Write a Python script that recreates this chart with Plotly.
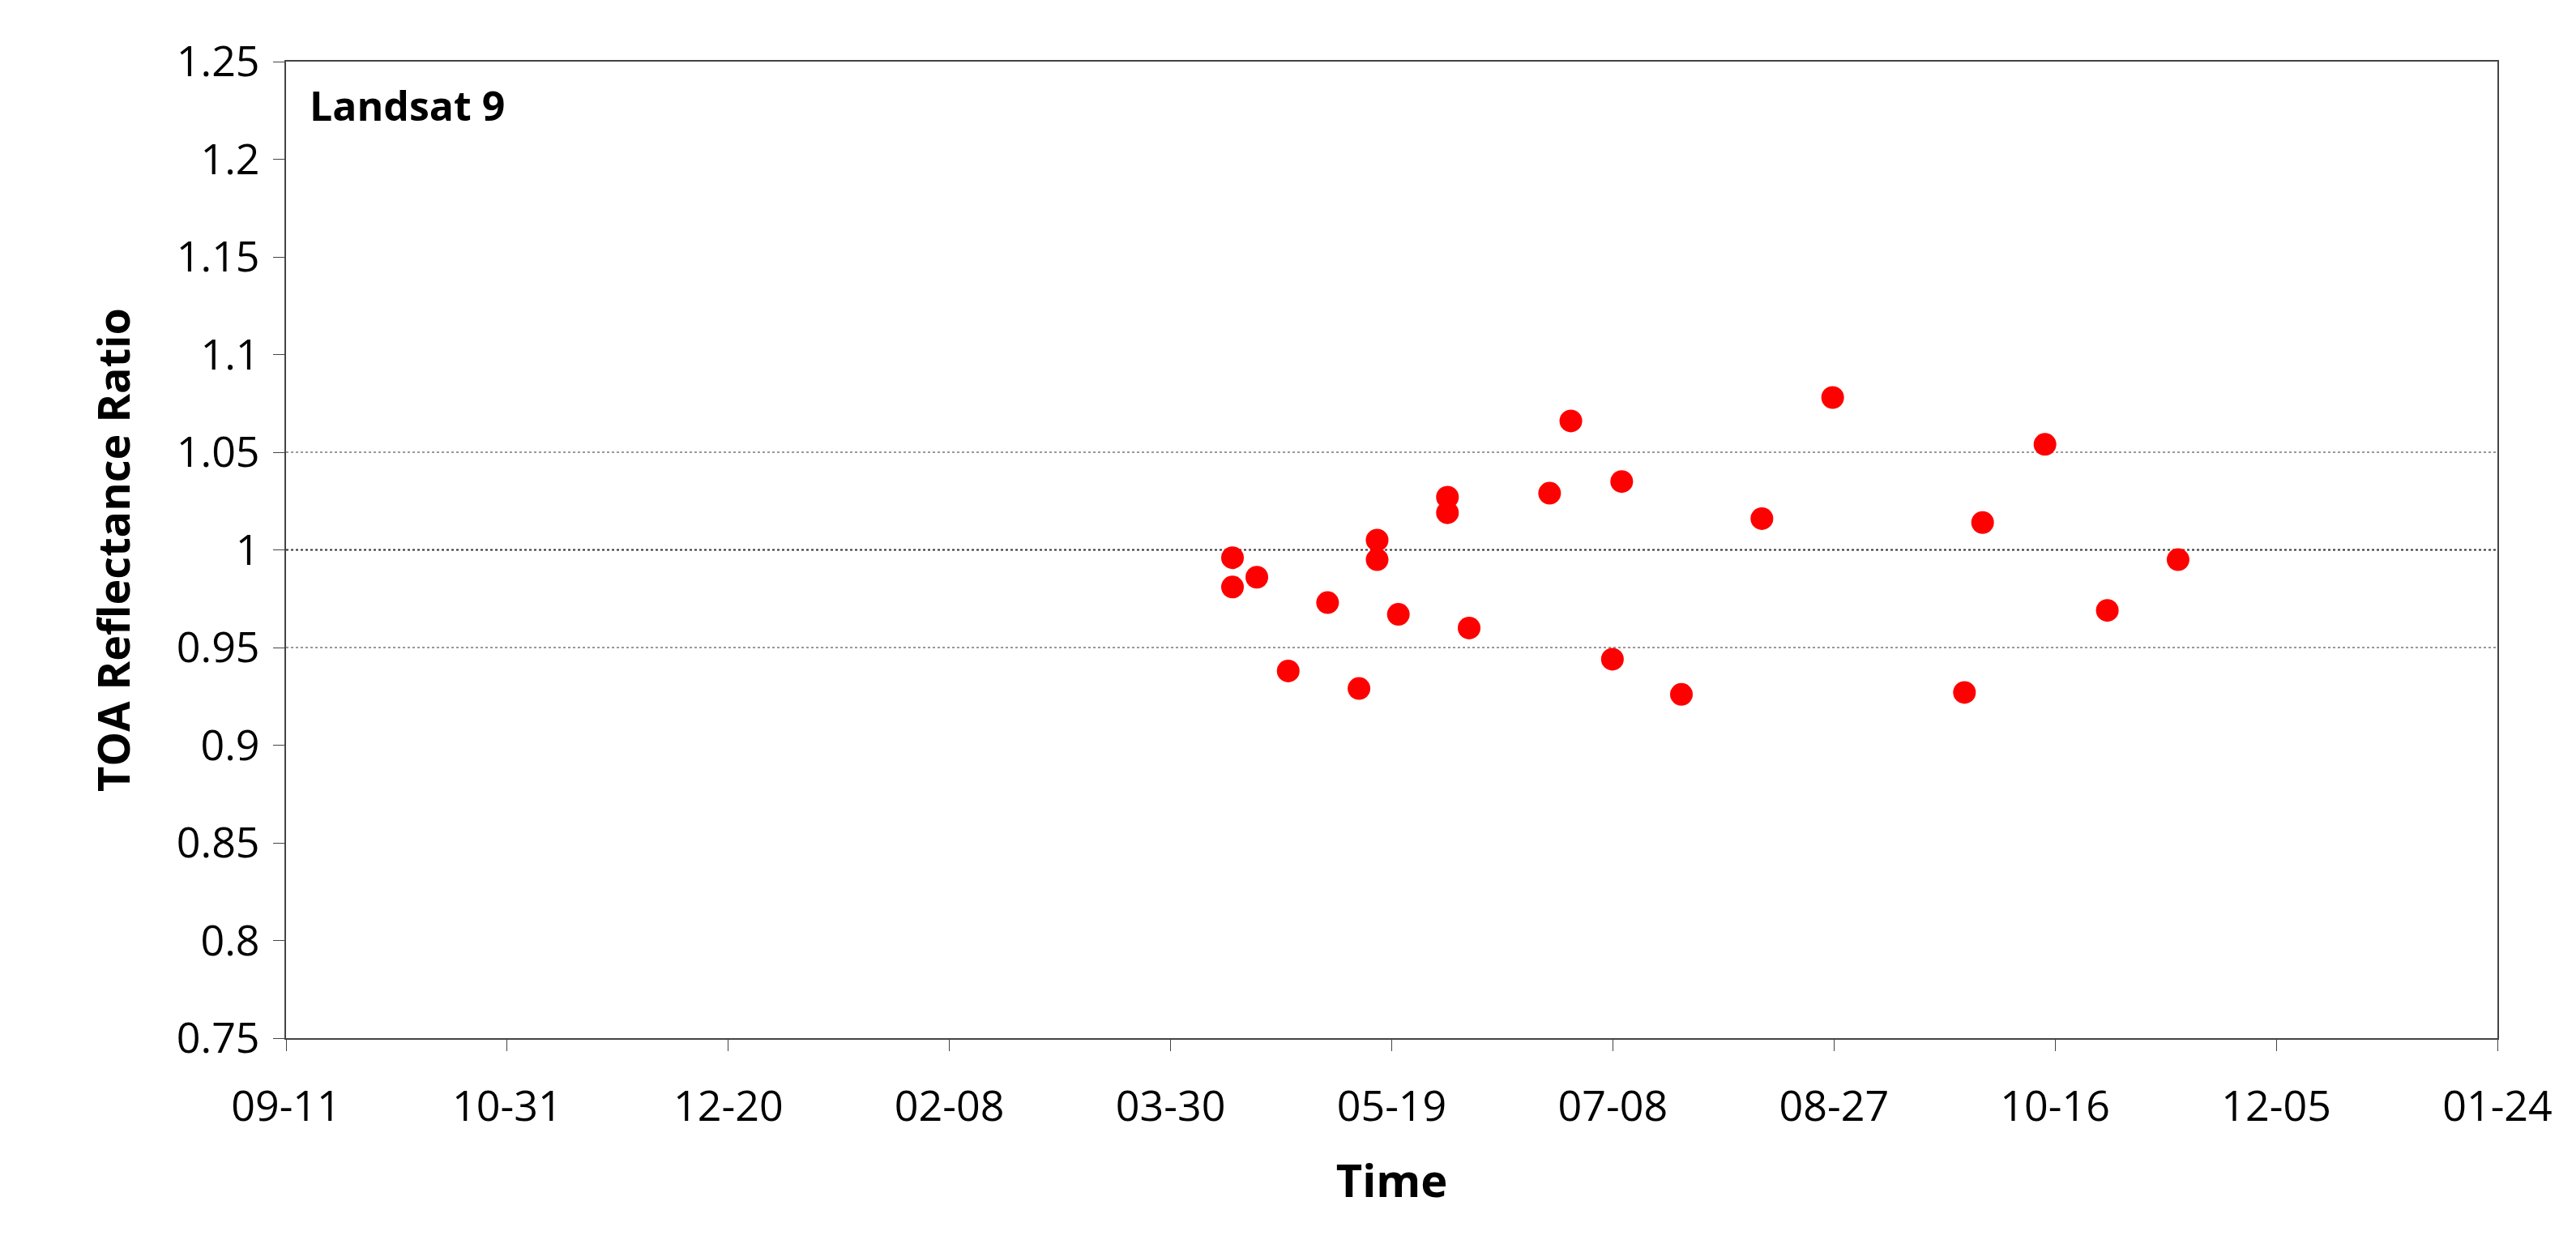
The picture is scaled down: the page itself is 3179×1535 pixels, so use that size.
import plotly.graph_objects as go
import pandas as pd

start = pd.Timestamp("2021-09-11")
day_offsets = [214, 214, 219.5, 226.6, 235.5, 242.6, 246.7, 246.7, 251.5, 262.6, 262.6, 267.5,
               285.7, 290.5, 299.9, 302, 315.5, 333.7, 349.7, 379.5, 383.6, 397.7, 411.8, 427.8]
ratios = [0.996, 0.981, 0.986, 0.938, 0.973, 0.929, 1.005, 0.995, 0.967, 1.027, 1.019, 0.960,
          1.029, 1.066, 0.944, 1.035, 0.926, 1.016, 1.078, 0.927, 1.014, 1.054, 0.969, 0.995]
dates = [start + pd.Timedelta(days=d) for d in day_offsets]

fnt = "Open Sans, Liberation Sans, sans-serif"
fig = go.Figure()
fig.add_trace(go.Scatter(x=dates, y=ratios, mode="markers",
                         marker=dict(color="#ff0000", size=28), showlegend=False))
for yv, col in [(0.95, "#999999"), (1.05, "#999999"), (1.0, "#333333")]:
    fig.add_hline(y=yv, line=dict(color=col, width=2, dash="dot"), layer="below")
fig.add_annotation(text="<b>Landsat 9</b>", xref="paper", yref="paper", x=0.01, y=0.985,
                   xanchor="left", yanchor="top", showarrow=False, font=dict(size=50, color="black", family=fnt))
fig.update_xaxes(type="date", range=[start, start + pd.Timedelta(days=500)],
                 tick0=start, dtick=50 * 86400000, tickformat="%m-%d",
                 showline=True, linecolor="#444", linewidth=2, mirror=True,
                 ticks="outside", ticklen=14, tickcolor="#444", showgrid=False,
                 ticklabelstandoff=24,
                 tickfont=dict(size=52, family=fnt, color="black"),
                 title=dict(text="<b>Time</b>", font=dict(size=56, family=fnt, color="black"), standoff=40))
fig.update_yaxes(range=[0.75, 1.25], dtick=0.05, tickformat="~g",
                 showline=True, linecolor="#444", linewidth=2, mirror=True,
                 ticks="outside", ticklen=14, tickcolor="#444", showgrid=False, zeroline=False,
                 ticklabelstandoff=6,
                 tickfont=dict(size=52, family=fnt, color="black"),
                 title=dict(text="<b>TOA Reflectance Ratio</b>", font=dict(size=54, family=fnt, color="black"), standoff=40))
fig.update_layout(width=3179, height=1535, plot_bgcolor="white", paper_bgcolor="white",
                  margin=dict(l=345, r=105, t=68, b=262))
fig.write_html("out.html")
